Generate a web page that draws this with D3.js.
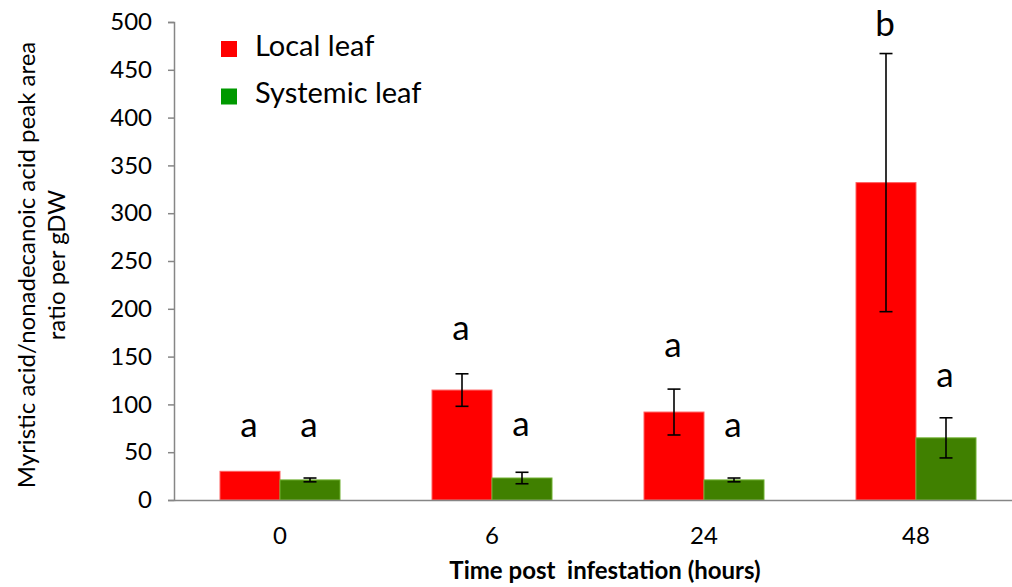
<!DOCTYPE html>
<html>
<head>
<meta charset="utf-8">
<script src="https://cdn.jsdelivr.net/npm/d3@7"></script>
<style>
  body { margin: 0; background: #fff; }
  text { font-family: Lato, "Open Sans", sans-serif; fill: #000; }
</style>
</head>
<body>
<svg id="chart" width="1012" height="587"></svg>
<script>
// data
var categories = ["0", "6", "24", "48"];
var seriesNames = ["Local leaf", "Systemic leaf"];
var localMeans = [30, 115, 92, 332];
var localErrors = [0, 17, 24, 135];
var systemicMeans = [21, 23, 21, 65];
var systemicErrors = [2, 6, 2, 21];
// significance letters and the value (in y units) where each sits
var localLetters = ["a", "a", "a", "b"];
var localLetterAt = [66, 167, 150, 485];
var systemicLetters = ["a", "a", "a", "a"];
var systemicLetterAt = [66, 67, 66, 118];
var yTicks = [0, 50, 100, 150, 200, 250, 300, 350, 400, 450, 500];

var barColors = ["#ff0000", "#408000"];
var legendColors = ["#ff0000", "#009900"];

var svg = d3.select("#chart");

var x = d3.scaleBand().domain(categories).range([174, 1022]);
var xSub = d3.scaleBand().domain(seriesNames).range([0, 120]);
var y = d3.scaleLinear().domain([0, 500]).range([500, 22]);

var rows = [];
categories.forEach(function(c, i) {
    rows.push({cat: c, s: seriesNames[0], mean: localMeans[i], err: localErrors[i], letter: localLetters[i], at: localLetterAt[i], color: barColors[0]});
    rows.push({cat: c, s: seriesNames[1], mean: systemicMeans[i], err: systemicErrors[i], letter: systemicLetters[i], at: systemicLetterAt[i], color: barColors[1]});
});

function barX(d) {
    return x(d.cat) + (x.bandwidth() - 120) / 2 + xSub(d.s);
}

// bars
svg.selectAll("rect.bar").data(rows).enter().append("rect")
    .attr("class", "bar")
    .attr("x", barX)
    .attr("width", xSub.bandwidth())
    .attr("y", function(d) { return y(d.mean); })
    .attr("height", function(d) { return y(0) - y(d.mean); })
    .attr("fill", function(d) { return d.color; })
    .attr("stroke", function(d) { return d.color == "#ff0000" ? "#ff6060" : "#6fb030"; })
    .attr("stroke-width", 1);

// error bars
var eb = svg.selectAll("g.err").data(rows.filter(function(d) { return d.err > 0; })).enter().append("g")
    .attr("class", "err")
    .attr("stroke", "#000")
    .attr("stroke-width", 1.6);
eb.append("line")
    .attr("x1", function(d) { return barX(d) + xSub.bandwidth() / 2; })
    .attr("x2", function(d) { return barX(d) + xSub.bandwidth() / 2; })
    .attr("y1", function(d) { return y(d.mean + d.err); })
    .attr("y2", function(d) { return y(d.mean - d.err); });
[1, -1].forEach(function(sign) {
    eb.append("line")
        .attr("x1", function(d) { return barX(d) + xSub.bandwidth() / 2 - 6.5; })
        .attr("x2", function(d) { return barX(d) + xSub.bandwidth() / 2 + 6.5; })
        .attr("y1", function(d) { return y(d.mean + sign * d.err); })
        .attr("y2", function(d) { return y(d.mean + sign * d.err); });
});

// letters
svg.selectAll("text.letter").data(rows).enter().append("text")
    .attr("class", "letter")
    .attr("x", function(d) { return barX(d) + xSub.bandwidth() / 2 - 1; })
    .attr("y", function(d) { return y(d.at); })
    .attr("text-anchor", "middle")
    .style("font-size", "35px")
    .text(function(d) { return d.letter; });

// y axis
var yAxis = svg.append("g")
    .attr("transform", "translate(174,0)")
    .call(d3.axisLeft(y).tickValues(yTicks).tickSize(6).tickPadding(16));
yAxis.select(".domain").attr("stroke", "#868686").attr("stroke-width", 1.5);
yAxis.selectAll(".tick line").attr("stroke", "#868686").attr("stroke-width", 1.5);
yAxis.selectAll(".tick text").style("font-size", "24px").attr("fill", "#000");

// x axis
var xAxis = svg.append("g")
    .attr("transform", "translate(0,500)")
    .call(d3.axisBottom(x).tickSize(0).tickPadding(27));
xAxis.select(".domain").attr("stroke", "#868686").attr("stroke-width", 1.5);
xAxis.selectAll(".tick text").style("font-size", "24px").attr("fill", "#000");

// axis titles
svg.append("text")
    .attr("x", 605)
    .attr("y", 579)
    .attr("text-anchor", "middle")
    .style("font-size", "24px")
    .style("font-weight", "bold")
    .style("white-space", "pre")
    .text("Time post  infestation (hours)");

var yTitle = svg.append("text")
    .attr("transform", "translate(35,265) rotate(-90)")
    .attr("text-anchor", "middle")
    .style("font-size", "24px");
yTitle.append("tspan").attr("x", 0).attr("dy", 0).text("Myristic acid/nonadecanoic acid peak area");
yTitle.append("tspan").attr("x", 0).attr("dy", 30).text("ratio per gDW");

// legend
var legend = svg.selectAll("g.legend").data(seriesNames).enter().append("g")
    .attr("class", "legend")
    .attr("transform", function(d, i) { return "translate(221," + (41 + i * 47.5) + ")"; });
legend.append("rect")
    .attr("width", 16)
    .attr("height", 16)
    .attr("fill", function(d, i) { return legendColors[i]; });
legend.append("text")
    .attr("x", 34)
    .attr("y", 14.5)
    .style("font-size", "29px")
    .text(function(d) { return d; });
</script>
</body>
</html>
